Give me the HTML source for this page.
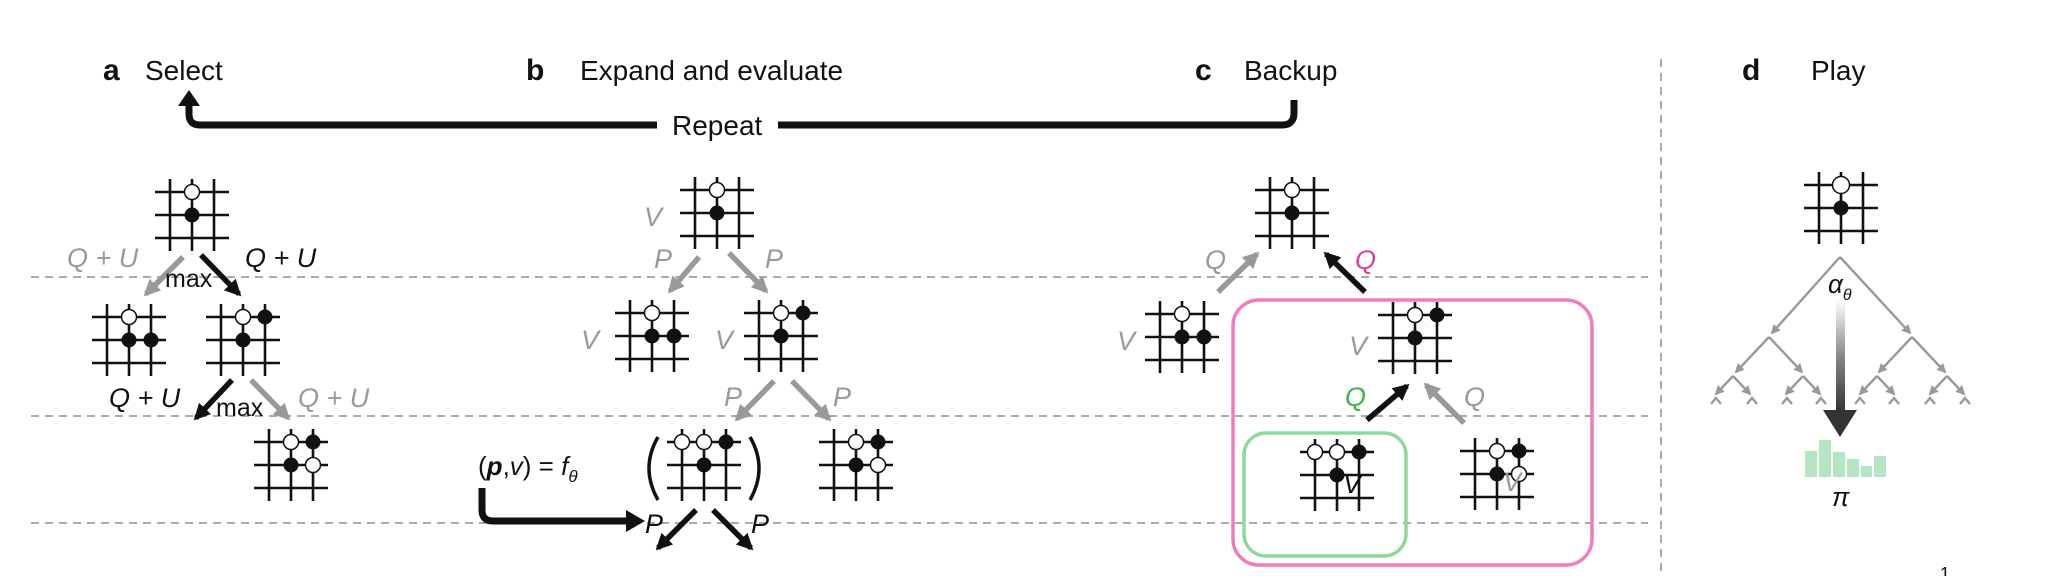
<!DOCTYPE html>
<html><head><meta charset="utf-8"><style>
html,body{margin:0;padding:0;background:#fff;}
svg{display:block;}
text{font-family:"Liberation Sans",sans-serif;}
.it{font-style:italic;}
</style></head><body>
<svg width="2048" height="576" viewBox="0 0 2048 576" xmlns="http://www.w3.org/2000/svg">
<defs>
<g id="grid" stroke="#111" stroke-width="2.6">
<line x1="-22" y1="-36" x2="-22" y2="36"/><line x1="0" y1="-36" x2="0" y2="36"/><line x1="22" y1="-36" x2="22" y2="36"/>
<line x1="-37" y1="-23" x2="37" y2="-23"/><line x1="-37" y1="0" x2="37" y2="0"/><line x1="-37" y1="23" x2="37" y2="23"/>
</g>
<marker id="hb" viewBox="0 0 10 10" refX="8" refY="5" markerWidth="3" markerHeight="3" orient="auto" markerUnits="strokeWidth"><path d="M0,0L10,5L0,10z" fill="#111"/></marker>
<marker id="hg" viewBox="0 0 10 10" refX="8" refY="5" markerWidth="3" markerHeight="3" orient="auto" markerUnits="strokeWidth"><path d="M0,0L10,5L0,10z" fill="#999"/></marker>
<marker id="hs" viewBox="0 0 10 10" refX="8" refY="5" markerWidth="4" markerHeight="4" orient="auto" markerUnits="strokeWidth"><path d="M0,0L10,5L0,10z" fill="#999"/></marker>
<linearGradient id="gr" x1="0" y1="0" x2="0" y2="1"><stop offset="0" stop-color="#fff"/><stop offset="0.5" stop-color="#888"/><stop offset="1" stop-color="#333"/></linearGradient>
</defs>

<g stroke="#aaa" stroke-width="2" stroke-dasharray="8,6">
<line x1="31" y1="277" x2="1648" y2="277"/>
<line x1="31" y1="416" x2="1648" y2="416"/>
<line x1="31" y1="523" x2="1648" y2="523"/>
<line x1="1661" y1="59" x2="1661" y2="576"/>
</g>

<g font-size="28" fill="#111">
<text x="103" y="80" font-weight="bold" font-size="30">a</text>
<text x="145" y="80">Select</text>
<text x="526" y="80" font-weight="bold" font-size="30">b</text>
<text x="580" y="80">Expand and evaluate</text>
<text x="1195" y="80" font-weight="bold" font-size="30">c</text>
<text x="1244" y="80">Backup</text>
<text x="1742" y="80" font-weight="bold" font-size="30">d</text>
<text x="1811" y="80">Play</text>
<text x="672" y="135">Repeat</text>
</g>
<path d="M657,125 H200 Q189,125 189,114 V104" fill="none" stroke="#111" stroke-width="7"/>
<path d="M178,106 L189,90 L200,106z" fill="#111"/>
<path d="M778,125 H1282 Q1294,125 1294,113 V100" fill="none" stroke="#111" stroke-width="7"/>

<g transform="translate(192,215)"><use href="#grid"/><circle cx="0" cy="-23" r="7.5" fill="#fff" stroke="#111" stroke-width="1.5"/><circle cx="0" cy="0" r="7.5" fill="#111"/></g>
<g transform="translate(129,340)"><use href="#grid"/><circle cx="0" cy="-23" r="7.5" fill="#fff" stroke="#111" stroke-width="1.5"/><circle cx="0" cy="0" r="7.5" fill="#111"/><circle cx="22" cy="0" r="7.5" fill="#111"/></g>
<g transform="translate(243,340)"><use href="#grid"/><circle cx="0" cy="-23" r="7.5" fill="#fff" stroke="#111" stroke-width="1.5"/><circle cx="22" cy="-23" r="7.5" fill="#111"/><circle cx="0" cy="0" r="7.5" fill="#111"/></g>
<g transform="translate(291,465)"><use href="#grid"/><circle cx="0" cy="-23" r="7.5" fill="#fff" stroke="#111" stroke-width="1.5"/><circle cx="22" cy="-23" r="7.5" fill="#111"/><circle cx="0" cy="0" r="7.5" fill="#111"/><circle cx="22" cy="0" r="7.5" fill="#fff" stroke="#111" stroke-width="1.5"/></g>
<g stroke-width="5.5">
<line x1="183" y1="257" x2="146" y2="294" stroke="#999" marker-end="url(#hg)"/>
<line x1="201" y1="255" x2="239" y2="294" stroke="#111" marker-end="url(#hb)"/>
<line x1="232" y1="380" x2="196" y2="418" stroke="#111" marker-end="url(#hb)"/>
<line x1="251" y1="380" x2="288" y2="418" stroke="#999" marker-end="url(#hg)"/>
</g>
<g font-size="27" class="it">
<text x="67" y="267" fill="#999">Q + U</text>
<text x="245" y="267" fill="#111">Q + U</text>
<text x="109" y="407" fill="#111">Q + U</text>
<text x="298" y="407" fill="#999">Q + U</text>
</g>
<text x="165" y="287" font-size="25" fill="#111">max</text>
<text x="216" y="416" font-size="25" fill="#111">max</text>

<g transform="translate(717,213)"><use href="#grid"/><circle cx="0" cy="-23" r="7.5" fill="#fff" stroke="#111" stroke-width="1.5"/><circle cx="0" cy="0" r="7.5" fill="#111"/></g>
<g transform="translate(652,336)"><use href="#grid"/><circle cx="0" cy="-23" r="7.5" fill="#fff" stroke="#111" stroke-width="1.5"/><circle cx="0" cy="0" r="7.5" fill="#111"/><circle cx="22" cy="0" r="7.5" fill="#111"/></g>
<g transform="translate(781,336)"><use href="#grid"/><circle cx="0" cy="-23" r="7.5" fill="#fff" stroke="#111" stroke-width="1.5"/><circle cx="22" cy="-23" r="7.5" fill="#111"/><circle cx="0" cy="0" r="7.5" fill="#111"/></g>
<g transform="translate(704,465)"><use href="#grid"/><circle cx="-22" cy="-23" r="7.5" fill="#fff" stroke="#111" stroke-width="1.5"/><circle cx="0" cy="-23" r="7.5" fill="#fff" stroke="#111" stroke-width="1.5"/><circle cx="22" cy="-23" r="7.5" fill="#111"/><circle cx="0" cy="0" r="7.5" fill="#111"/></g>
<g transform="translate(856,465)"><use href="#grid"/><circle cx="0" cy="-23" r="7.5" fill="#fff" stroke="#111" stroke-width="1.5"/><circle cx="22" cy="-23" r="7.5" fill="#111"/><circle cx="0" cy="0" r="7.5" fill="#111"/><circle cx="22" cy="0" r="7.5" fill="#fff" stroke="#111" stroke-width="1.5"/></g>
<g stroke-width="5.5">
<line x1="699" y1="257" x2="670" y2="291" stroke="#999" marker-end="url(#hg)"/>
<line x1="729" y1="253" x2="766" y2="291" stroke="#999" marker-end="url(#hg)"/>
<line x1="774" y1="381" x2="737" y2="419" stroke="#999" marker-end="url(#hg)"/>
<line x1="792" y1="381" x2="829" y2="419" stroke="#999" marker-end="url(#hg)"/>
<line x1="696" y1="510" x2="658" y2="548" stroke="#111" marker-end="url(#hb)"/>
<line x1="713" y1="510" x2="751" y2="548" stroke="#111" marker-end="url(#hb)"/>
</g>
<g font-size="27" class="it" fill="#999">
<text x="644" y="226">V</text>
<text x="581" y="349">V</text>
<text x="715" y="349">V</text>
<text x="654" y="268">P</text>
<text x="765" y="268">P</text>
<text x="724" y="406">P</text>
<text x="833" y="406">P</text>
</g>
<g font-size="27" class="it" fill="#111">
<text x="645" y="533">P</text>
<text x="751" y="533">P</text>
</g>
<path d="M658,437 Q640,468 658,500" fill="none" stroke="#111" stroke-width="3.5"/>
<path d="M750,437 Q768,468 750,500" fill="none" stroke="#111" stroke-width="3.5"/>
<text x="478" y="475" font-size="26" fill="#111">(<tspan font-weight="bold" font-style="italic">p</tspan>,<tspan font-style="italic">v</tspan>) = <tspan font-style="italic">f</tspan><tspan font-size="17" dy="7" font-style="italic">θ</tspan></text>
<path d="M482,488 V510 Q482,521 493,521 H628" fill="none" stroke="#111" stroke-width="7"/>
<path d="M626,510 L645,521 L626,532z" fill="#111"/>

<rect x="1233" y="300" width="359" height="265" rx="26" fill="none" stroke="#f07cc0" stroke-width="3.5"/>
<rect x="1244" y="433" width="162" height="123" rx="22" fill="none" stroke="#8fd89a" stroke-width="3.5"/>
<g transform="translate(1292,213)"><use href="#grid"/><circle cx="0" cy="-23" r="7.5" fill="#fff" stroke="#111" stroke-width="1.5"/><circle cx="0" cy="0" r="7.5" fill="#111"/></g>
<g transform="translate(1182,337)"><use href="#grid"/><circle cx="0" cy="-23" r="7.5" fill="#fff" stroke="#111" stroke-width="1.5"/><circle cx="0" cy="0" r="7.5" fill="#111"/><circle cx="22" cy="0" r="7.5" fill="#111"/></g>
<g transform="translate(1415,338)"><use href="#grid"/><circle cx="0" cy="-23" r="7.5" fill="#fff" stroke="#111" stroke-width="1.5"/><circle cx="22" cy="-23" r="7.5" fill="#111"/><circle cx="0" cy="0" r="7.5" fill="#111"/></g>
<g transform="translate(1337,475)"><use href="#grid"/><circle cx="-22" cy="-23" r="7.5" fill="#fff" stroke="#111" stroke-width="1.5"/><circle cx="0" cy="-23" r="7.5" fill="#fff" stroke="#111" stroke-width="1.5"/><circle cx="22" cy="-23" r="7.5" fill="#111"/><circle cx="0" cy="0" r="7.5" fill="#111"/></g>
<g transform="translate(1497,474)"><use href="#grid"/><circle cx="0" cy="-23" r="7.5" fill="#fff" stroke="#111" stroke-width="1.5"/><circle cx="22" cy="-23" r="7.5" fill="#111"/><circle cx="0" cy="0" r="7.5" fill="#111"/><circle cx="22" cy="0" r="7.5" fill="#fff" stroke="#111" stroke-width="1.5"/></g>
<g stroke-width="5.5">
<line x1="1218" y1="292" x2="1257" y2="254" stroke="#999" marker-end="url(#hg)"/>
<line x1="1365" y1="292" x2="1326" y2="254" stroke="#111" marker-end="url(#hb)"/>
<line x1="1367" y1="420" x2="1407" y2="386" stroke="#111" marker-end="url(#hb)"/>
<line x1="1464" y1="423" x2="1426" y2="385" stroke="#999" marker-end="url(#hg)"/>
</g>
<g font-size="27" class="it">
<text x="1205" y="269" fill="#999">Q</text>
<text x="1355" y="269" fill="#e0409a">Q</text>
<text x="1345" y="406" fill="#3cb44b">Q</text>
<text x="1464" y="406" fill="#999">Q</text>
<text x="1117" y="350" fill="#999">V</text>
<text x="1349" y="355" fill="#999">V</text>
<text x="1343" y="493" fill="#111">V</text>
<text x="1503" y="491" fill="#999">V</text>
</g>

<g transform="translate(1841,208)"><use href="#grid" stroke-width="3.5"/><circle cx="0" cy="-23" r="8.5" fill="#fff" stroke="#111" stroke-width="1.5"/><circle cx="0" cy="0" r="7.5" fill="#111"/></g>
<g stroke="#999" stroke-width="2.4" fill="none">
<path d="M1840,257 L1772,333" marker-end="url(#hs)"/>
<path d="M1840,257 L1910,333" marker-end="url(#hs)"/>
<path d="M1769,337 L1736,372" marker-end="url(#hs)"/>
<path d="M1769,337 L1802,372" marker-end="url(#hs)"/>
<path d="M1912,337 L1879,372" marker-end="url(#hs)"/>
<path d="M1912,337 L1945,372" marker-end="url(#hs)"/>
<path d="M1733,376 L1716,394" marker-end="url(#hs)"/><path d="M1733,376 L1750,394" marker-end="url(#hs)"/>
<path d="M1803,376 L1786,394" marker-end="url(#hs)"/><path d="M1803,376 L1820,394" marker-end="url(#hs)"/>
<path d="M1877,376 L1860,394" marker-end="url(#hs)"/><path d="M1877,376 L1894,394" marker-end="url(#hs)"/>
<path d="M1947,376 L1930,394" marker-end="url(#hs)"/><path d="M1947,376 L1964,394" marker-end="url(#hs)"/>
<path d="M1711,404 L1716,398 L1721,404 M1747,404 L1752,398 L1757,404 M1782,404 L1787,398 L1792,404 M1816,404 L1821,398 L1826,404 M1855,404 L1860,398 L1865,404 M1889,404 L1894,398 L1899,404 M1925,404 L1930,398 L1935,404 M1960,404 L1965,398 L1970,404"/>
</g>
<rect x="1836" y="300" width="9" height="112" fill="url(#gr)"/>
<path d="M1823,410 L1857,410 L1840,437z" fill="#333"/>
<text x="1828" y="293" font-size="26" class="it" fill="#111" font-family="Liberation Serif">α<tspan font-size="16" dy="7">θ</tspan></text>
<g fill="#b4e6c4">
<rect x="1805" y="451" width="12" height="26"/>
<rect x="1819" y="440" width="12" height="37"/>
<rect x="1833" y="452" width="12" height="25"/>
<rect x="1847" y="459" width="12" height="18"/>
<rect x="1861" y="466" width="11" height="11"/>
<rect x="1874" y="456" width="12" height="21"/>
</g>
<text x="1832" y="506" font-size="26" class="it" fill="#111" font-family="Liberation Serif">π</text>
<text x="1940" y="580" font-size="18" fill="#111" font-family="Liberation Serif">1</text>
</svg>
</body></html>
